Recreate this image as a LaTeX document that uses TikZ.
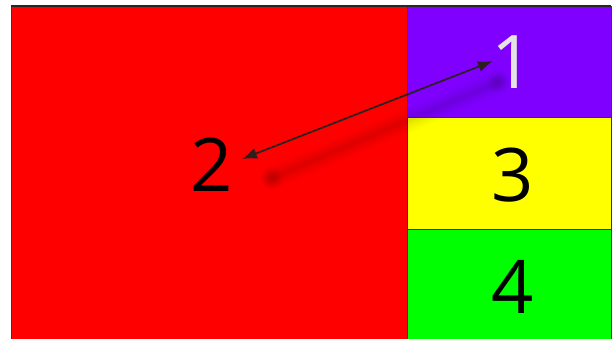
\documentclass[tikz,border=0pt]{standalone}
\usepackage{fontspec}
\setmainfont{Open Sans}
\usetikzlibrary{arrows.meta}
\definecolor{cred}{HTML}{FF0000}
\definecolor{cpurple}{HTML}{8000FF}
\definecolor{cyellow}{HTML}{FFFF00}
\definecolor{cgreen}{HTML}{00FF00}
\definecolor{cedge}{HTML}{5A2A20}
\definecolor{cone}{HTML}{E4E4E4}
\definecolor{carrow}{HTML}{2A2020}
\tikzset{
  panel/.style={draw=cedge, line width=0.8pt, inner sep=0pt, outer sep=0pt, anchor=north west},
  digit/.style={font=\fontsize{74}{74}\selectfont, inner sep=0pt},
  link/.style={draw=carrow, line width=1.7pt, {Latex[length=15pt,width=11pt]}-{Latex[length=15pt,width=11pt]}},
}
\begin{document}
\begin{tikzpicture}[x=1pt,y=-1pt]
\useasboundingbox (0,0) rectangle (614,338);
\fill[white] (0,0) rectangle (614,338);
% panels
\node[panel, fill=cred, minimum width=396pt, minimum height=334pt] (red) at (11,6) {};
\node[panel, fill=cpurple, minimum width=204pt, minimum height=111pt] (purple) at (407,6) {};
\node[panel, fill=cyellow, minimum width=204pt, minimum height=112pt] (yellow) at (407,117) {};
\node[panel, fill=cgreen, minimum width=204pt, minimum height=112pt] (green) at (407,229) {};
\draw[black!85, line width=1.2pt] (red.north west) -- (purple.north east);
% blurred shadow of the arrow
\foreach \w/\o in {24/0.015, 20/0.015, 16/0.02, 12/0.02, 8/0.025, 4/0.03}{
  \draw[black, opacity=\o, line width=\w pt, line cap=round] (272,178) -- (498,82);
}
\foreach \p in {(272,178),(498,82)}{
  \foreach \r/\o in {11/0.03, 8/0.04, 5/0.05}{
    \fill[black, opacity=\o] \p circle (\r pt);
  }
}
% digits
\node[digit, text=black] (n2) at (212,165) {2};
\node[digit, text=cone] (n1) at (513,62) {1};
\node[digit, text=black] (n3) at (513,175) {3};
\node[digit, text=black] (n4) at (513,287) {4};
% arrow
\coordinate (a2) at (242,159);
\coordinate (a1) at (493,61);
\draw[link] (a2) -- (a1);
\end{tikzpicture}
\end{document}
